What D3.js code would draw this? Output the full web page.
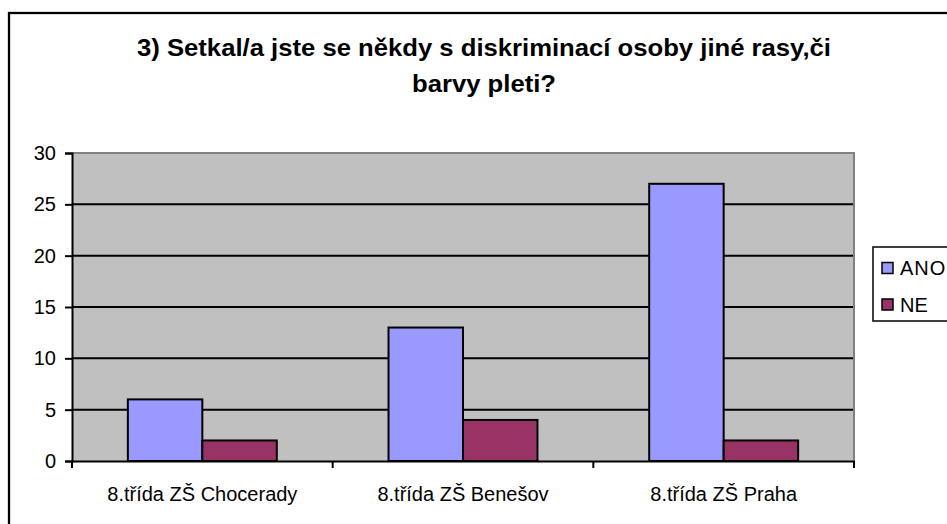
<!DOCTYPE html>
<html>
<head>
<meta charset="utf-8">
<script src="https://cdn.jsdelivr.net/npm/d3@7"></script>
<style>
html,body{margin:0;padding:0;background:#fff;}
svg{display:block;font-family:"Liberation Sans",Arial,sans-serif;}
</style>
</head>
<body>
<svg id="chart" width="947" height="524"></svg>
<script>
const categories = ["8.třída ZŠ Chocerady", "8.třída ZŠ Benešov", "8.třída ZŠ Praha"];
const seriesNames = ["ANO", "NE"];
const anoValues = [6, 13, 27];
const neValues = [2, 4, 2];
const yTicks = [0, 5, 10, 15, 20, 25, 30];
const titleLines = ["3) Setkal/a jste se někdy s diskriminací osoby jiné rasy,či", "barvy pleti?"];
const colors = ["#9999FF", "#993366"];

const svg = d3.select("#chart");
const plot = {left: 72, right: 854, top: 153, bottom: 461};

// outer chart border (extends past the crop on right/bottom)
svg.append("rect").attr("x", 9).attr("y", 13).attr("width", 960).attr("height", 540)
  .attr("fill", "#fff").attr("stroke", "#000").attr("stroke-width", 2.3);

// title
const tl = [{t: titleLines[0], y: 56, len: 694}, {t: titleLines[1], y: 92, len: 144}];
svg.selectAll("text.title").data(tl).join("text").attr("class", "title")
  .attr("x", 484).attr("y", d => d.y).attr("text-anchor", "middle")
  .attr("font-size", 24).attr("font-weight", "bold").attr("fill", "#000")
  .attr("textLength", d => d.len).attr("lengthAdjust", "spacingAndGlyphs")
  .text(d => d.t);

const x0 = d3.scaleBand().domain(categories).range([plot.left, plot.right]).paddingInner(0).paddingOuter(0);
const gapWidth = 1.5;
const barW = x0.bandwidth() / (seriesNames.length + gapWidth);
const y = d3.scaleLinear().domain([0, 30]).range([plot.bottom, plot.top]);

// plot area background
svg.append("rect").attr("x", plot.left).attr("y", plot.top)
  .attr("width", plot.right - plot.left).attr("height", plot.bottom - plot.top)
  .attr("fill", "#C0C0C0");

// gridlines
svg.append("g").selectAll("line").data(yTicks.filter(v => v > 0 && v < 30)).join("line")
  .attr("x1", plot.left).attr("x2", plot.right)
  .attr("y1", d => y(d)).attr("y2", d => y(d))
  .attr("stroke", "#000").attr("stroke-width", 2);

// top and right border of plot area
svg.append("path")
  .attr("d", `M${plot.left},${plot.top}H${plot.right}V${plot.bottom}`)
  .attr("fill", "none").attr("stroke", "#808080").attr("stroke-width", 2);

// bars
const data = categories.map((c, i) => ({c, vals: [anoValues[i], neValues[i]]}));
const groups = svg.append("g").selectAll("g").data(data).join("g");
groups.selectAll("rect").data(d => d.vals.map((v, j) => ({c: d.c, v, j}))).join("rect")
  .attr("x", d => x0(d.c) + x0.bandwidth() / 2 - barW + d.j * barW)
  .attr("y", d => y(d.v))
  .attr("width", barW)
  .attr("height", d => y(0) - y(d.v))
  .attr("fill", d => colors[d.j])
  .attr("stroke", "#000").attr("stroke-width", 2);

// y axis
const yAxis = d3.axisLeft(y).tickValues(yTicks).tickSize(7).tickPadding(9).tickFormat(d3.format("d"));
const gy = svg.append("g").attr("transform", `translate(${plot.left},0)`).call(yAxis);
gy.select(".domain").attr("stroke", "#000").attr("stroke-width", 2);
gy.selectAll(".tick line").attr("stroke", "#000").attr("stroke-width", 2);
gy.selectAll(".tick text").attr("font-size", 20).attr("fill", "#000")
  .attr("font-family", "Liberation Sans, Arial, sans-serif");

// x axis
const xAxis = d3.axisBottom(x0).tickSize(0).tickPadding(26);
const gx = svg.append("g").attr("transform", `translate(0,${plot.bottom})`).call(xAxis);
gx.select(".domain").attr("stroke", "#000").attr("stroke-width", 2);
gx.selectAll(".tick text").attr("font-size", 20).attr("fill", "#000")
  .attr("font-family", "Liberation Sans, Arial, sans-serif");
// boundary tick marks
const bounds = categories.map(c => x0(c)).concat([plot.right]);
svg.append("g").selectAll("line").data(bounds).join("line")
  .attr("x1", d => d).attr("x2", d => d)
  .attr("y1", plot.bottom).attr("y2", plot.bottom + 7)
  .attr("stroke", "#000").attr("stroke-width", 2);

// legend
const lg = svg.append("g");
lg.append("rect").attr("x", 873).attr("y", 247).attr("width", 100).attr("height", 74)
  .attr("fill", "#fff").attr("stroke", "#000").attr("stroke-width", 1.5);
const items = lg.selectAll("g.item").data(seriesNames).join("g").attr("class", "item")
  .attr("transform", (d, i) => `translate(0,${268 + i * 36.5})`);
items.append("rect").attr("x", 882).attr("y", -5.5).attr("width", 11).attr("height", 11)
  .attr("fill", (d, i) => colors[i]).attr("stroke", "#000").attr("stroke-width", 1.5);
items.append("text").attr("x", 900).attr("y", 7).attr("font-size", 20).attr("fill", "#000")
  .attr("letter-spacing", (d, i) => i === 0 ? 1 : 0)
  .text(d => d);
</script>
</body>
</html>
